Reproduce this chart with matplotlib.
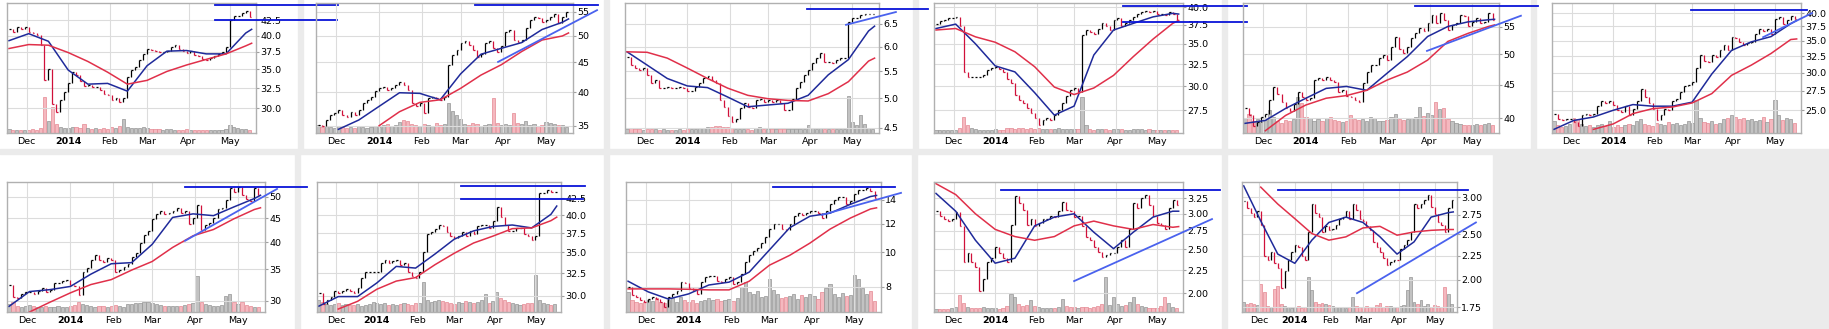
import numpy as np
import matplotlib.pyplot as plt
from matplotlib.patches import Rectangle
from matplotlib.ticker import NullLocator

nan = np.nan

# EJE X: indice de dia habil (cada barra = 2 dias habiles)
month_idx = [9, 30, 51, 70, 91, 112]
month_lab = ["Dec", "2014", "Feb", "Mar", "Apr", "May"]
ma_idx = [0, 10, 20, 30, 40, 50, 60, 70, 80, 90, 100, 110, 120, 123]

# PANEL 1
c1 = [41.0, 40.6, 41.3, 41.1, 41.4, 40.5, 40.4, 40.1, 38.5, 33.6, 35.0, 30.5, 29.6, 31.0, 32.0, 33.2, 34.6, 34.2, 33.4, 32.7,
      32.9, 32.6, 32.6, 32.2, 31.8, 31.6, 31.0, 31.2, 30.8, 31.3, 34.0, 34.9, 35.3, 36.3, 37.2, 37.9, 37.8, 37.6, 37.5, 37.5,
      37.6, 38.2, 38.6, 37.9, 37.6, 37.4, 37.6, 37.1, 36.9, 36.5, 36.3, 36.6, 36.9, 37.2, 37.5, 38.2, 42.6, 43.2, 43.3, 43.7,
      44.1, 43.0]
v1 = [4, 3, 3, 3, 3, 3, 4, 3, 5, 36, 12, 26, 9, 6, 5, 5, 6, 6, 5, 9, 5, 4, 5, 4, 5, 4, 6, 5, 7, 14, 6, 5, 5, 5, 6, 5, 4, 4, 4, 3,
      4, 4, 3, 3, 3, 4, 3, 3, 3, 3, 3, 3, 3, 3, 3, 4, 8, 6, 5, 4, 4, 3]
b1 = [39.2, 40.3, 39.1, 34.9, 33.0, 33.1, 32.1, 35.5, 37.6, 37.7, 37.2, 37.2, 40.4, 41.0]
r1 = [38.0, 38.6, 38.5, 37.4, 36.1, 34.6, 33.0, 33.5, 34.7, 35.6, 36.4, 37.2, 38.4, 38.8]
h1 = [(104.4, 166.8, 45.1), (104.4, 166.0, 42.5)]
s1 = []

# PANEL 2
c2 = [35.1, 35.0, 35.8, 36.5, 36.8, 37.3, 36.5, 36.3, 37.0, 36.5, 37.3, 38.3, 38.8, 39.3, 40.1, 40.7, 40.8, 40.4, 40.7, 41.2,
      41.7, 41.2, 40.4, 38.3, 37.8, 38.3, 36.8, 39.0, 39.2, 39.0, 38.8, 39.3, 44.5, 46.3, 47.3, 48.6, 49.0, 48.3, 47.3, 46.0,
      46.6, 48.6, 49.0, 47.6, 46.9, 48.0, 50.8, 51.2, 49.2, 48.9, 49.2, 51.7, 53.3, 54.0, 53.7, 52.9, 53.2, 54.0, 54.6, 52.6,
      54.0, 55.0]
v2 = [8, 6, 7, 6, 5, 7, 6, 5, 6, 5, 7, 6, 5, 6, 7, 6, 8, 9, 7, 8, 11, 13, 12, 9, 8, 7, 9, 8, 7, 10, 8, 9, 30, 22, 18, 14,
      9, 8, 10, 9, 7, 8, 9, 35, 10, 8, 9, 8, 20, 10, 9, 12, 8, 9, 7, 8, 11, 10, 9, 8, 8, 6]
b2 = [nan, 34.5, 35.8, 37.8, 39.9, 39.8, 38.8, 43.0, 46.5, 47.6, 48.7, 51.3, 52.8, 53.5]
r2 = [nan, nan, nan, 35.0, 37.0, 38.4, 38.8, 40.6, 42.8, 44.6, 47.0, 49.2, 50.0, 50.6]
h2 = [(77.1, 137.5, 56.5)]
s2 = [(88.4, 45.1, 137.0, 55.4)]

# PANEL 3
c3 = [5.79, 5.62, 5.56, 5.53, 5.56, 5.43, 5.27, 5.33, 5.18, 5.18, 5.21, 5.18, 5.18, 5.21, 5.18, 5.12, 5.12, 5.20, 5.27, 5.36,
      5.40, 5.33, 5.27, 4.96, 4.85, 4.69, 4.60, 4.65, 4.83, 4.91, 4.85, 4.83, 4.96, 4.99, 4.93, 4.96, 4.93, 4.96, 4.91, 4.80,
      4.80, 4.99, 5.18, 5.30, 5.43, 5.53, 5.66, 5.76, 5.86, 5.69, 5.69, 5.66, 5.72, 5.76, 5.76, 6.54, 6.63, 6.63, 6.70, 6.74,
      6.74, 6.74]
v3 = [4, 5, 4, 4, 3, 4, 4, 4, 3, 4, 3, 3, 3, 4, 3, 4, 4, 4, 5, 5, 6, 6, 7, 7, 6, 6, 5, 4, 4, 4, 4, 3, 5, 6, 4, 4, 4, 4, 4, 4,
      4, 4, 4, 4, 4, 8, 5, 4, 5, 4, 4, 4, 4, 4, 4, 37, 11, 8, 18, 9, 5, 4]
b3 = [5.89, 5.62, 5.36, 5.22, 5.19, 5.02, 4.85, 4.88, 4.91, 5.05, 5.43, 5.73, 6.34, 6.45]
r3 = [5.89, 5.88, 5.76, 5.56, 5.36, 5.18, 5.05, 4.99, 4.96, 4.95, 5.08, 5.30, 5.70, 5.76]
h3 = [(89.4, 149.5, 6.85)]
s3 = [(108.8, 6.48, 133.6, 6.78)]

# PANEL 4
c4 = [37.6, 38.0, 38.2, 38.4, 38.4, 38.6, 37.4, 31.6, 31.0, 31.0, 31.0, 31.0, 31.2, 31.8, 32.0, 32.2, 31.9, 31.6, 30.8, 30.3,
      29.1, 28.5, 28.2, 27.7, 27.2, 26.7, 26.0, 26.5, 26.7, 26.5, 27.0, 27.5, 28.2, 28.9, 29.6, 29.8, 29.4, 36.2, 36.8, 36.6,
      36.3, 36.9, 37.7, 37.3, 36.8, 38.2, 38.4, 37.4, 37.8, 38.2, 38.6, 39.0, 39.3, 39.5, 39.3, 39.5, 39.0, 39.0, 38.9, 39.3,
      39.0, 38.2]
v4 = [3, 3, 3, 3, 3, 3, 5, 16, 8, 5, 4, 3, 3, 3, 3, 4, 3, 3, 5, 5, 4, 5, 5, 4, 5, 4, 5, 4, 4, 4, 4, 5, 4, 4, 4, 4, 4, 36, 8, 4,
      3, 4, 4, 4, 3, 4, 4, 4, 3, 3, 4, 4, 4, 3, 4, 3, 3, 3, 3, 3, 3, 3]
b4 = [37.0, 37.6, 35.0, 32.3, 31.6, 29.3, 27.0, 27.9, 33.6, 36.8, 37.7, 38.6, 39.1, 39.0]
r4 = [36.8, 37.0, 35.9, 35.2, 34.0, 32.2, 29.9, 29.1, 29.8, 31.2, 33.4, 35.6, 37.7, 38.1]
h4 = [(94.8, 157.6, 40.15), (94.8, 157.6, 37.9)]
s4 = []

# PANEL 5
c5 = [41.4, 40.4, 39.0, 39.5, 40.2, 40.6, 42.6, 44.6, 43.6, 42.4, 41.4, 41.1, 42.1, 43.8, 43.1, 42.6, 42.9, 45.7, 46.0, 45.7,
      46.2, 45.7, 45.4, 43.8, 44.1, 43.3, 43.1, 42.6, 42.4, 45.2, 47.0, 48.2, 48.2, 49.3, 49.9, 49.0, 51.3, 53.2, 51.0, 50.2,
      51.3, 52.9, 53.8, 54.8, 54.2, 55.7, 57.4, 55.7, 57.7, 56.4, 54.5, 55.4, 55.7, 57.4, 57.1, 55.1, 56.0, 56.7, 55.7, 56.0,
      57.7, 56.4]
v5 = [15, 19, 12, 14, 11, 13, 23, 16, 12, 10, 13, 12, 14, 36, 30, 16, 15, 12, 14, 12, 15, 16, 13, 12, 11, 12, 18, 14, 13, 14,
      12, 16, 15, 12, 12, 13, 16, 19, 14, 13, 14, 15, 16, 26, 17, 20, 18, 31, 24, 25, 14, 12, 10, 9, 8, 8, 8, 9, 8, 9, 10, 8]
b5 = [39.3, 39.7, 41.4, 42.9, 44.4, 44.7, 44.1, 46.8, 49.6, 53.2, 55.1, 56.0, 56.4, 56.5]
r5 = [nan, 38.3, 40.4, 41.9, 42.9, 43.3, 44.1, 45.7, 47.0, 49.0, 52.3, 53.8, 55.1, 55.4]
h5 = [(83.8, 144.4, 59.2)]
s5 = [(89.7, 50.6, 136.0, 57.2)]

# PANEL 6
c6 = [24.6, 24.0, 23.8, 24.0, 24.0, 23.6, 23.2, 24.4, 24.6, 24.4, 24.6, 25.5, 26.2, 25.9, 26.2, 25.7, 25.0, 24.8, 25.5, 24.4,
      25.2, 26.2, 27.7, 26.6, 25.9, 25.2, 23.8, 24.4, 25.2, 25.0, 26.2, 26.4, 27.3, 28.1, 28.3, 28.6, 30.7, 32.7, 31.8, 31.5,
      32.7, 32.4, 33.4, 34.3, 33.4, 35.7, 35.4, 34.8, 34.3, 34.6, 34.8, 36.2, 37.0, 36.7, 37.0, 36.2, 38.9, 39.2, 38.0, 38.7,
      39.5, 38.9]
v6 = [12, 8, 6, 7, 9, 15, 14, 9, 7, 8, 6, 8, 9, 7, 12, 6, 8, 6, 8, 9, 8, 12, 14, 9, 8, 7, 10, 9, 8, 11, 9, 10, 8, 9, 12, 10,
      33, 15, 11, 10, 12, 9, 10, 14, 15, 18, 16, 14, 15, 13, 14, 12, 13, 16, 11, 14, 33, 18, 13, 15, 14, 10]
b6 = [22.8, 23.8, 24.2, 25.0, 25.7, 25.5, 25.5, 26.0, 29.8, 33.4, 34.8, 35.7, 38.0, 38.6]
r6 = [nan, nan, 22.8, 23.4, 24.6, 25.2, 25.4, 25.9, 27.1, 29.6, 31.1, 32.9, 35.2, 35.3]
h6 = [(69.5, 128.2, 40.6)]
s6 = [(106.0, 35.6, 130.8, 40.0)]

# PANEL 7
c7 = [32.5, 30.6, 30.4, 31.1, 31.4, 31.4, 31.1, 31.5, 31.9, 31.4, 31.7, 32.7, 32.7, 33.0, 33.2, 32.5, 32.2, 30.9, 34.6, 35.2,
      36.7, 37.6, 36.7, 36.4, 37.0, 36.7, 34.6, 34.9, 35.5, 36.0, 37.3, 37.9, 39.9, 41.5, 42.2, 44.9, 46.0, 46.7, 46.0, 46.3,
      46.7, 47.3, 46.3, 46.6, 43.8, 45.1, 48.0, 42.5, 43.5, 43.9, 45.1, 47.0, 47.3, 49.3, 52.2, 51.3, 52.6, 50.4, 49.6, 48.9,
      52.2, 50.4]
v7 = [8, 10, 6, 5, 6, 7, 6, 5, 5, 6, 5, 5, 6, 5, 5, 6, 7, 10, 8, 7, 6, 5, 6, 6, 5, 6, 7, 6, 5, 8, 8, 9, 9, 10, 10, 9, 8, 7,
      6, 6, 6, 6, 6, 7, 8, 9, 36, 10, 8, 7, 6, 6, 7, 16, 18, 10, 8, 10, 7, 6, 5, 5]
b7 = [29.2, 31.4, 31.7, 32.2, 34.2, 36.0, 36.2, 39.6, 45.2, 46.0, 45.6, 47.6, 49.6, 50.4]
r7 = [nan, 28.4, 29.8, 31.2, 32.5, 33.3, 34.9, 36.4, 39.0, 41.3, 42.6, 44.9, 47.0, 47.4]
h7 = [(86.1, 145.8, 52.5)]
s7 = [(86.1, 40.3, 131.1, 52.0)]

# PANEL 8
c8 = [30.3, 29.1, 29.5, 29.9, 30.5, 30.3, 30.5, 30.7, 30.5, 30.3, 30.8, 32.0, 32.6, 32.6, 32.6, 32.6, 33.7, 34.1, 33.7, 33.9,
      34.1, 33.5, 33.7, 32.6, 32.2, 31.9, 32.6, 35.1, 37.4, 37.6, 38.1, 38.6, 38.4, 37.6, 37.1, 36.9, 37.1, 37.6, 37.1, 37.8,
      37.4, 38.4, 38.6, 38.6, 38.2, 39.1, 41.2, 39.7, 38.6, 37.8, 37.8, 38.2, 38.2, 37.4, 37.1, 36.6, 37.1, 43.2, 43.2, 43.7,
      43.4, 43.4]
v8 = [12, 10, 8, 7, 8, 9, 7, 8, 7, 7, 8, 6, 7, 8, 10, 9, 8, 9, 7, 8, 7, 8, 9, 8, 7, 9, 9, 30, 12, 10, 11, 12, 11, 10, 9, 8,
      10, 9, 11, 10, 9, 10, 12, 18, 9, 11, 20, 14, 12, 10, 9, 8, 7, 8, 9, 9, 37, 12, 9, 8, 7, 8]
b8 = [28.9, 29.9, 29.9, 31.4, 33.3, 33.1, 34.8, 36.7, 37.8, 38.4, 38.6, 38.2, 40.1, 41.3]
r8 = [nan, 28.6, 29.4, 30.7, 31.6, 32.0, 33.5, 34.9, 36.2, 37.1, 38.1, 38.2, 39.2, 39.7]
h8 = [(73.5, 137.6, 44.35), (73.5, 136.6, 42.35)]
s8 = []

# PANEL 9
c9 = [8.0, 7.6, 7.5, 7.35, 7.28, 7.4, 7.5, 7.4, 7.28, 7.05, 7.5, 7.65, 7.8, 8.25, 8.2, 7.95, 7.85, 7.65, 8.25, 8.5,
      8.6, 8.6, 8.3, 8.25, 8.4, 8.5, 8.15, 8.25, 8.7, 9.4, 9.8, 10.05, 10.3, 10.6, 11.0, 11.6, 11.95, 11.95, 11.6, 11.5,
      11.95, 12.6, 12.85, 12.7, 12.85, 13.0, 13.0, 12.85, 12.45, 13.0, 13.6, 14.0, 14.3, 14.3, 13.6, 13.9, 14.55, 14.9, 14.9,
      15.1, 14.8, 14.15]
v9 = [20, 12, 10, 9, 10, 12, 11, 14, 10, 9, 12, 14, 10, 15, 12, 10, 12, 9, 11, 12, 14, 12, 13, 11, 12, 13, 11, 14, 25, 30,
      20, 18, 21, 15, 16, 33, 22, 18, 14, 15, 16, 18, 13, 17, 15, 18, 16, 13, 20, 24, 28, 18, 15, 19, 16, 17, 37, 33, 24, 18,
      21, 11]
b9 = [8.3, 7.75, 7.4, 7.65, 8.1, 8.25, 8.8, 10.15, 11.7, 12.6, 12.85, 13.6, 14.3, 14.4]
r9 = [7.9, 7.9, 7.9, 7.88, 7.85, 7.85, 8.3, 9.2, 9.8, 10.6, 11.6, 12.45, 13.2, 13.3]
h9 = [(71.8, 132.2, 15.22)]
s9 = [(96.0, 12.71, 135.1, 14.64)]

# PANEL 10
c10 = [3.04, 2.97, 2.92, 2.89, 2.92, 3.02, 2.82, 2.35, 2.45, 2.35, 2.29, 2.02, 2.15, 2.35, 2.39, 2.53, 2.45, 2.39, 2.35, 2.84,
       3.28, 3.17, 3.06, 2.84, 2.92, 2.82, 2.86, 2.92, 2.92, 2.97, 2.95, 3.04, 3.19, 3.06, 3.04, 2.95, 2.97, 2.82, 2.67, 2.62,
       2.53, 2.47, 2.41, 2.43, 2.45, 2.45, 2.53, 2.62, 2.53, 2.77, 3.17, 3.09, 3.25, 3.31, 3.14, 2.97, 2.86, 2.84, 2.77, 3.09,
       3.22, 3.14]
v10 = [3, 3, 3, 3, 4, 5, 17, 9, 5, 4, 4, 4, 5, 4, 4, 4, 3, 4, 6, 18, 15, 8, 6, 7, 12, 6, 5, 4, 4, 4, 4, 5, 13, 6, 5, 5, 4, 5,
       5, 4, 5, 6, 8, 35, 7, 15, 8, 6, 7, 10, 15, 8, 6, 5, 4, 4, 4, 6, 15, 9, 5, 4]
b10 = [3.33, 3.04, 2.62, 2.33, 2.39, 2.82, 2.95, 3.0, 2.73, 2.51, 2.73, 2.95, 3.04, 3.04]
r10 = [3.5, 3.31, 3.0, 2.77, 2.67, 2.62, 2.67, 2.82, 2.89, 2.82, 2.77, 2.84, 2.80, 2.81]
h10 = [(33.0, 144.0, 3.39)]
s10 = [(70.0, 2.126, 139.9, 2.92)]

# PANEL 11
c11 = [2.94, 2.84, 2.78, 2.72, 2.80, 2.62, 2.25, 2.20, 2.29, 2.17, 2.12, 1.92, 2.09, 2.21, 2.29, 2.37, 2.35, 2.25, 2.20, 2.53,
       2.90, 2.78, 2.72, 2.53, 2.60, 2.55, 2.57, 2.62, 2.69, 2.72, 2.80, 2.69, 2.90, 2.82, 2.69, 2.67, 2.60, 2.55, 2.41, 2.35,
       2.29, 2.23, 2.15, 2.18, 2.21, 2.20, 2.33, 2.37, 2.43, 2.53, 2.90, 2.84, 2.90, 2.96, 3.03, 2.86, 2.76, 2.65, 2.62, 2.53,
       2.84, 2.96]
v11 = [10, 8, 9, 8, 7, 28, 20, 6, 5, 23, 26, 8, 6, 5, 4, 5, 6, 4, 5, 35, 22, 10, 8, 9, 8, 7, 6, 5, 5, 5, 4, 5, 15, 6, 5, 4,
       6, 5, 5, 7, 9, 5, 6, 6, 5, 5, 6, 7, 22, 35, 10, 8, 12, 6, 8, 5, 7, 6, 5, 25, 18, 8]
b11 = [3.17, 2.67, 2.27, 2.17, 2.43, 2.65, 2.72, 2.65, 2.47, 2.27, 2.41, 2.72, 2.78, 2.79]
r11 = [nan, 3.15, 2.90, 2.70, 2.51, 2.43, 2.47, 2.58, 2.60, 2.49, 2.53, 2.55, 2.56, 2.56]
h11 = [(20.1, 131.6, 3.10)]
s11 = [(66.5, 1.875, 136.3, 2.65)]

# eje Y de cada panel (ticks en escala log)
yt1 = [30, 32.5, 35, 37.5, 40, 42.5]
yt2 = [35, 40, 45, 50, 55]
yt3 = [4.5, 5.0, 5.5, 6.0, 6.5]
yt4 = [27.5, 30, 32.5, 35, 37.5, 40]
yt5 = [40, 45, 50, 55]
yt6 = [25, 27.5, 30, 32.5, 35, 37.5, 40]
yt7 = [30, 35, 40, 45, 50]
yt8 = [30, 32.5, 35, 37.5, 40, 42.5]
yt9 = [8, 10, 12, 14]
yt10 = [2.0, 2.25, 2.5, 2.75, 3.0, 3.25]
yt11 = [1.75, 2.0, 2.25, 2.5, 2.75, 3.0]

# layout en pixeles: izquierda, derecha, fila, ylim, formato
panels = [
    (c1, v1, b1, r1, h1, s1, yt1, "%.1f", 7, 256, 0, (27.2, 45.5)),
    (c2, v2, b2, r2, h2, s2, yt2, "%d", 316, 573, 0, (34.0, 57.0)),
    (c3, v3, b3, r3, h3, s3, yt3, "%.1f", 625, 879, 0, (4.42, 7.0)),
    (c4, v4, b4, r4, h4, s4, yt4, "%.1f", 934, 1183, 0, (25.3, 40.6)),
    (c5, v5, b5, r5, h5, s5, yt5, "%d", 1243, 1499, 0, (38.0, 59.8)),
    (c6, v6, b6, r6, h6, s6, yt6, "%.1f", 1552, 1801, 0, (22.4, 42.0)),
    (c7, v7, b7, r7, h7, s7, yt7, "%d", 7, 265, 1, (28.4, 53.8)),
    (c8, v8, b8, r8, h8, s8, yt8, "%.1f", 317, 561, 1, (28.3, 45.0)),
    (c9, v9, b9, r9, h9, s9, yt9, "%d", 626, 881, 1, (6.81, 15.7)),
    (c10, v10, b10, r10, h10, s10, yt10, "%.2f", 934, 1183, 1, (1.815, 3.53)),
    (c11, v11, b11, r11, h11, s11, yt11, "%.2f", 1242, 1457, 1, (1.71, 3.23)),
]
row_top = [3, 182]
row_bot = [133, 312]

W, H = 1829, 329
fig = plt.figure(figsize=(W / 100, H / 100), dpi=100)
fig.patch.set_facecolor("white")

# separadores grises
sep = "#ebebeb"
for x in [298, 604, 913, 1222, 1531]:
    fig.patches.append(Rectangle((x / W, 1 - 149 / H), 5 / W, 149 / H, transform=fig.transFigure,
                                 color=sep, zorder=-5))
fig.patches.append(Rectangle((0, 1 - 154 / H), 1, 5 / H, transform=fig.transFigure, color=sep, zorder=-5))
for x in [295, 604, 912, 1222]:
    fig.patches.append(Rectangle((x / W, 0), 5 / W, (H - 154) / H, transform=fig.transFigure,
                                 color=sep, zorder=-5))
fig.patches.append(Rectangle((1493 / W, 0), (W - 1493) / W, (H - 154) / H, transform=fig.transFigure,
                             color=sep, zorder=-5))

for (c, v, b, r, hl, sl, yt, fmt, L, R, row, ylim) in panels:
    T, B = row_top[row], row_bot[row]
    pos = [L / W, 1 - B / H, (R - L) / W, (B - T) / H]
    c = np.array(c)
    n = min(len(c), len(v))
    x = np.arange(n) * 2
    prev = np.r_[c[0], c[:n - 1]]
    up = c[:n] >= prev

    # volumen
    axv = fig.add_axes(pos)
    axv.set_xlim(-1, 125.2)
    axv.set_ylim(0, B - T)
    axv.axis("off")
    axv.bar(x, v[:n], width=1.6, color=np.where(up, "#c2c2c2", "#f5b8bf"),
            edgecolor=np.where(up, "#959595", "#e48892"), linewidth=0.5)

    # precio: barra de cierre anterior a cierre, con marca de cierre
    ax = fig.add_axes(pos)
    ax.patch.set_alpha(0)
    ax.set_yscale("log")
    ax.set_xlim(-1, 125.2)
    ax.set_ylim(*ylim)
    cols = np.where(up, "black", "#d0103a")
    ax.vlines(x, np.minimum(prev, c[:n]), np.maximum(prev, c[:n]), colors=cols, lw=0.9)
    ax.hlines(c[:n], x, x + 0.9, colors=cols, lw=0.9)

    # medias moviles
    ax.plot(ma_idx, b, color="#1f2a9a", lw=1.1)
    ax.plot(ma_idx, r, color="#e0304a", lw=1.1)

    # lineas de tendencia
    for x0, x1, y in hl:
        ax.plot([x0, x1], [y, y], color="#0a14d8", lw=1.3, clip_on=False, zorder=5)
    for x0, y0, x1, y1 in sl:
        ax.plot([x0, x1], [y0, y1], color="#4a62ee", lw=1.3, clip_on=False, zorder=5)

    ax.set_xticks(month_idx)
    ax.set_xticklabels(month_lab)
    ax.get_xticklabels()[1].set_fontweight("bold")
    ax.yaxis.tick_right()
    ax.set_yticks(yt)
    ax.set_yticklabels([fmt % t for t in yt])
    ax.yaxis.set_minor_locator(NullLocator())
    ax.tick_params(axis="x", length=0, pad=3, labelsize=6.8)
    ax.tick_params(axis="y", length=2, pad=1, labelsize=6.8, color="#a0a0a0")
    ax.grid(True, color="#dcdcdc", lw=0.8)
    ax.set_axisbelow(True)
    for sp in ax.spines.values():
        sp.set_color("#b0b0b0")
        sp.set_linewidth(1.0)

fig.savefig("out.png", dpi=100)
